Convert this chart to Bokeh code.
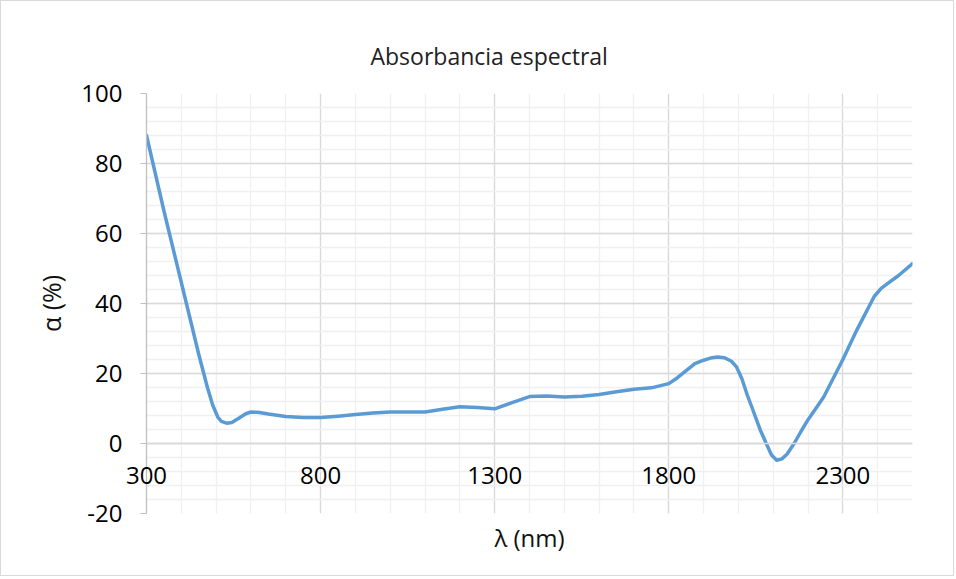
from bokeh.plotting import figure
from bokeh.models import Range1d, FixedTicker, Title, Label
from bokeh.embed import file_html
from bokeh.resources import INLINE

# Data
wavelength_nm = [300, 350, 400, 450, 475, 490, 505, 515, 530, 545, 565, 585, 600, 620,
                 650, 700, 750, 800, 850, 900, 950, 1000, 1050, 1100, 1150, 1200, 1250,
                 1300, 1350, 1400, 1450, 1500, 1550, 1600, 1650, 1700, 1750, 1800, 1825,
                 1850, 1875, 1900, 1920, 1940, 1960, 1980, 1995, 2010, 2025, 2040, 2063,
                 2080, 2095, 2110, 2125, 2140, 2160, 2180, 2200, 2245, 2300, 2340, 2390,
                 2410, 2430, 2460, 2500]
absorbance_pct = [88.0, 66.5, 46.0, 25.5, 16.0, 11.0, 7.5, 6.3, 5.8, 6.0, 7.2, 8.5, 9.0, 8.9,
                  8.4, 7.7, 7.4, 7.4, 7.8, 8.3, 8.7, 9.0, 9.0, 9.0, 9.8, 10.5, 10.3,
                  9.9, 11.7, 13.4, 13.6, 13.3, 13.5, 14.0, 14.8, 15.5, 15.9, 17.1, 18.8,
                  20.8, 22.8, 23.8, 24.4, 24.7, 24.5, 23.5, 21.8, 18.5, 14.0, 10.0, 3.8,
                  0.0, -3.3, -4.8, -4.4, -3.0, 0.0, 3.5, 6.8, 13.3, 24.0, 32.4, 42.0,
                  44.3, 45.8, 48.0, 51.4]

x_start, x_end = 300, 2500
x_major_ticks = [300, 800, 1300, 1800, 2300]
x_tick_labels = ["300", "800", "1300", "1800", "2300"]
x_minor_ticks = list(range(300, 2501, 100))
y_major_ticks = [-20, 0, 20, 40, 60, 80, 100]
y_minor_ticks = list(range(-20, 101, 4))

FONT = "Open Sans"

p = figure(frame_width=766, frame_height=420,
           min_border_left=145, min_border_right=36, min_border_top=92, min_border_bottom=62,
           x_range=Range1d(x_start, x_end), y_range=Range1d(-20, 100),
           output_backend="svg", toolbar_location=None,
           background_fill_color="white", border_fill_color="white")
p.outline_line_color = None

p.title = Title(text="Absorbancia espectral", align="left", offset=224, text_font=FONT,
                text_font_size="23px", text_font_style="normal", text_color="#222222",
                standoff=44)
p.add_layout(Title(text="λ (nm)", align="center", text_font=FONT, text_font_size="24px",
                   text_font_style="normal", text_color="#111111"), "below")

# Axes
xa = p.xaxis[0]
xa.fixed_location = 0
xa.ticker = FixedTicker(ticks=x_major_ticks, minor_ticks=x_minor_ticks)
xa.axis_line_color = "#d9d9d9"
xa.axis_line_width = 1.3
xa.major_tick_line_color = "#d9d9d9"
xa.major_tick_out = 7
xa.major_tick_in = 0
xa.minor_tick_line_color = None
xa.major_label_text_color = None

ya = p.yaxis[0]
ya.ticker = FixedTicker(ticks=y_major_ticks, minor_ticks=y_minor_ticks)
ya.axis_line_color = "#bfbfbf"
ya.axis_line_width = 1.3
ya.major_tick_line_color = "#bfbfbf"
ya.major_tick_out = 6
ya.major_tick_in = 0
ya.minor_tick_line_color = None
ya.major_label_text_font = FONT
ya.major_label_text_font_size = "24px"
ya.major_label_text_color = "#000000"
ya.major_label_standoff = 18
ya.major_label_overrides = {-20: "-20"}
ya.axis_label = "α (%)"
ya.axis_label_text_font = FONT
ya.axis_label_text_font_size = "25px"
ya.axis_label_text_font_style = "normal"
ya.axis_label_text_color = "#111111"
ya.axis_label_standoff = 10

# Grids
p.xgrid.ticker = FixedTicker(ticks=x_major_ticks, minor_ticks=x_minor_ticks)
p.ygrid.ticker = FixedTicker(ticks=y_major_ticks, minor_ticks=y_minor_ticks)
for g in (p.xgrid[0], p.ygrid[0]):
    g.grid_line_color = "#d9d9d9"
    g.grid_line_width = 1.3
    g.minor_grid_line_color = "#f0f0f0"
    g.minor_grid_line_width = 1.3

p.line(wavelength_nm, absorbance_pct, line_color="#5b9bd5", line_width=3.5,
       line_join="round", line_cap="round")

# x tick labels sit just under the zero line (the axis crosses at 0).
# The label at the left edge would be clipped by the frame, so it is laid out in a side panel.
for tx, tl in zip(x_major_ticks, x_tick_labels):
    lbl = Label(x=tx, y=0, text=tl, text_align="center", text_baseline="top",
                y_offset=-23, text_font=FONT, text_font_size="24px", text_color="#000000")
    p.add_layout(lbl, "right" if tx == x_start else "center")

p.styles = {"border": "1px solid #d9d9d9"}

open("out.html", "w").write(file_html(p, INLINE))
